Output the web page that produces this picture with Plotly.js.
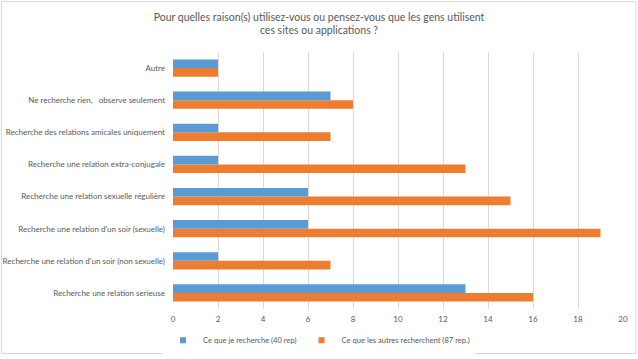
<!DOCTYPE html>
<html><head><meta charset="utf-8">
<script src="https://cdn.plot.ly/plotly-3.0.1.min.js"></script>
<style>html,body{margin:0;padding:0;background:#fff}#chart{width:638px;height:359px}</style>
</head><body><div id="chart"></div>
<script>
const categories = [
  "Recherche une relation serieuse",
  "Recherche une relation d'un soir (non sexuelle)",
  "Recherche une relation d'un soir (sexuelle)",
  "Recherche une relation sexuelle régulière",
  "Recherche une relation extra-conjugale",
  "Recherche des relations amicales uniquement",
  "Ne recherche rien,   observe seulement",
  "Autre"
];
const moi = [13, 2, 6, 6, 2, 2, 7, 2];
const autres = [16, 7, 19, 15, 13, 7, 8, 2];
const seriesNames = ["Ce que je recherche (40 rep)", "Ce que les autres recherchent (87 rep.)"];
const colors = ["#5B9BD5", "#ED7D31"];
const xTicks = [0, 2, 4, 6, 8, 10, 12, 14, 16, 18, 20];

const L = 173, R = 15, T = 52, B = 50, W = 638, H = 359;
const pw = W - L - R, ph = H - T - B;
const font = "Lato, 'Liberation Sans', sans-serif";

const data = [
  {type: "bar", orientation: "h", y: categories, x: autres, name: seriesNames[1],
   marker: {color: colors[1]}, showlegend: false},
  {type: "bar", orientation: "h", y: categories, x: moi, name: seriesNames[0],
   marker: {color: colors[0]}, showlegend: false},
  {type: "scatter", mode: "markers", x: [null], y: [null], name: seriesNames[0],
   marker: {symbol: "square", size: 6, color: colors[0]}, legendrank: 1},
  {type: "scatter", mode: "markers", x: [null], y: [null], name: seriesNames[1],
   marker: {symbol: "square", size: 6, color: colors[1]}, legendrank: 2}
];

const layout = {
  width: W, height: H,
  margin: {l: L, r: R, t: T, b: B},
  paper_bgcolor: "#fff", plot_bgcolor: "#fff",
  font: {family: font, color: "#595959", size: 8},
  title: {text: "Pour quelles raison(s) utilisez-vous ou pensez-vous que les gens utilisent<br>ces sites ou applications ?",
    font: {family: font, size: 10.5, color: "#595959"}, x: 0.5, xref: "container", xanchor: "center",
    y: 0.942, yref: "container", yanchor: "top"},
  barmode: "group", bargap: 0.46, bargroupgap: 0,
  xaxis: {range: [0, 20], tickvals: xTicks, ticktext: xTicks.map(String), showgrid: true, gridcolor: "#d9d9d9",
    gridwidth: 1, zeroline: false, showline: false, ticks: "", ticklabelstandoff: 4,
    tickfont: {size: 8, color: "#595959"}, fixedrange: true},
  yaxis: {categoryorder: "array", categoryarray: categories, showgrid: false, zeroline: false, showline: false,
    ticks: "", ticklabelstandoff: 7, tickfont: {size: 8, color: "#595959"}, fixedrange: true},
  showlegend: true,
  legend: {orientation: "h", x: 0.5, xref: "container", xanchor: "center", y: 0.052, yref: "container",
    yanchor: "middle", font: {size: 7.6, color: "#595959"}, itemwidth: 30, tracegroupgap: 0},
  shapes: [{type: "rect", xref: "paper", yref: "paper",
    x0: (1.5 - L) / pw, x1: (636 - L) / pw, y0: (H - 353.5 - B) / ph, y1: (H - 1.5 - B) / ph,
    line: {color: "#d9d9d9", width: 1}, fillcolor: "rgba(0,0,0,0)", layer: "below"}]
};

Plotly.newPlot("chart", data, layout, {displayModeBar: false, staticPlot: true});
</script></body></html>
